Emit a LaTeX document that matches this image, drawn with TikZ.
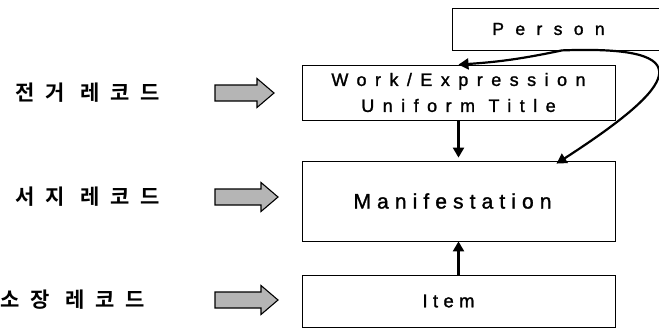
\documentclass[tikz,border=0pt]{standalone}
\usepackage{fontspec}
\setmainfont{Liberation Sans}
\newfontfamily\krfont{Noto Sans CJK KR Bold}[LetterSpace=52]
\newfontfamily\wideA{Liberation Sans}[LetterSpace=47,FakeBold=1.4]
\newfontfamily\wideM{Liberation Sans}[LetterSpace=29,FakeBold=1.4]
\newfontfamily\wideP{Liberation Sans}[LetterSpace=65,FakeBold=1.4]
\usetikzlibrary{arrows.meta}
\begin{document}
\begin{tikzpicture}[x=1pt,y=-1pt,
 box/.style={draw,line width=0.8pt,inner sep=0pt,align=center},
 lbl/.style={font=\krfont\fontsize{21}{21}\selectfont, anchor=west, inner sep=0pt},
 fatstyle/.style={draw, line width=1.1pt, fill=gray!58, line join=miter},
 fatarrow/.pic={\path[fatstyle] (0,-8) -- (#1-17,-8) -- (#1-17,-14.5) -- (#1,0)
     -- (#1-17,14.5) -- (#1-17,8) -- (0,8) -- cycle;},
 link/.style={line width=2.2pt, -{Triangle[length=10pt,width=11pt]}}]
\useasboundingbox (0,0) rectangle (659,330);
% boxes
\node[box, minimum width=213pt, minimum height=42pt, font=\wideP\fontsize{17.5}{17.5}\selectfont] (person) at (558.5,29) {Person\hspace*{20pt}};
\node[box, minimum width=313pt, minimum height=55pt, font=\wideA\fontsize{18}{26}\selectfont] (work) at (458.5,92.5) {Work/Expression\\Uniform Title};
\node[box, minimum width=313pt, minimum height=80pt, font=\wideM\fontsize{21}{21}\selectfont] (manif) at (458.5,201) {Manifestation\hspace*{12pt}};
\node[box, minimum width=313pt, minimum height=52pt, font=\wideM\fontsize{18.5}{18.5}\selectfont] (item) at (458.5,301) {Item\hspace*{20pt}};
% left labels
\node[lbl] (l1) at (15,93) {전거 레코드};
\node[lbl] (l2) at (15,197) {서지 레코드};
\node[lbl] (l3) at (0,300) {소장 레코드};
\pic (a1) at (215,93) {fatarrow=59};
\pic (a2) at (215,197) {fatarrow=63};
\pic (a3) at (215,300) {fatarrow=63};
% connectors
\draw[link, shorten >=3pt] (work.south) -- (manif.north);
\draw[link] (item.north) -- (manif.south);
\draw[link] ([xshift=3.5pt]person.south) to[bend left=4] (work.north);
\draw[link] ([xshift=3.5pt]person.south) .. controls (704,45) and (678,85) .. ([xshift=98pt,yshift=-3pt]manif.north);
\end{tikzpicture}
\end{document}
